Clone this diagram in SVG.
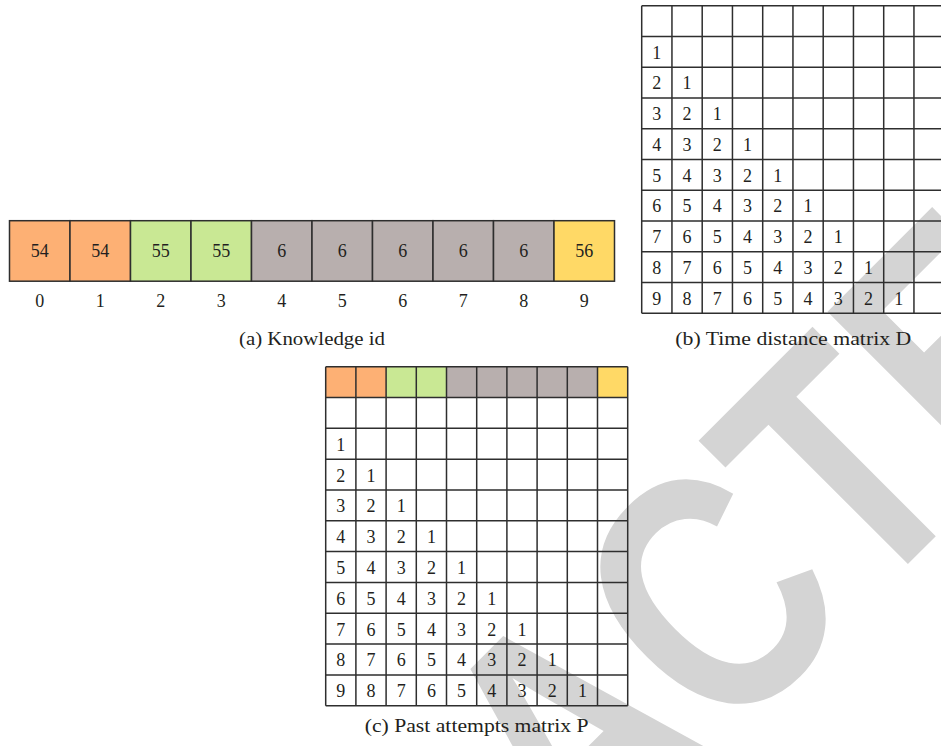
<svg xmlns="http://www.w3.org/2000/svg" width="941" height="746" viewBox="0 0 941 746">
<style>
.num{font-family:"Liberation Serif","Times New Roman",serif;font-size:18px;fill:#231f20;text-anchor:middle}
.cap{font-family:"Liberation Serif","Times New Roman",serif;font-size:19.5px;fill:#231f20;text-anchor:middle}
.cell{stroke:#2e2e2e;stroke-width:1.5}
.grid{fill:none;stroke:#2e2e2e;stroke-width:1.5}
.or{fill:#fdb074}.gr{fill:#c9e894}.gy{fill:#b8afae}.ye{fill:#ffd966}
.wm{font-family:"Liberation Sans",Arial,sans-serif;font-weight:bold;font-size:342px;fill:#d4d4d4}
</style>
<rect width="941" height="746" fill="#ffffff"/>
<g id="watermark">
<text class="wm" transform="translate(56.7,1415.3) rotate(-45) scale(0.8,1)">RETRACTED</text>
</g>

<g id="knowledge-id">
<rect class="cell or" x="9.5" y="220.7" width="60.5" height="60.5"/>
<rect class="cell or" x="70" y="220.7" width="60.5" height="60.5"/>
<rect class="cell gr" x="130.5" y="220.7" width="60.5" height="60.5"/>
<rect class="cell gr" x="191" y="220.7" width="60.5" height="60.5"/>
<rect class="cell gy" x="251.5" y="220.7" width="60.5" height="60.5"/>
<rect class="cell gy" x="312" y="220.7" width="60.5" height="60.5"/>
<rect class="cell gy" x="372.5" y="220.7" width="60.5" height="60.5"/>
<rect class="cell gy" x="433" y="220.7" width="60.5" height="60.5"/>
<rect class="cell gy" x="493.5" y="220.7" width="60.5" height="60.5"/>
<rect class="cell ye" x="554" y="220.7" width="60.5" height="60.5"/>
<g class="num">
<text x="39.75" y="257">54</text><text x="100.25" y="257">54</text><text x="160.75" y="257">55</text><text x="221.25" y="257">55</text><text x="281.75" y="257">6</text><text x="342.25" y="257">6</text><text x="402.75" y="257">6</text><text x="463.25" y="257">6</text><text x="523.75" y="257">6</text><text x="584.25" y="257">56</text>
<text x="39.75" y="307">0</text><text x="100.25" y="307">1</text><text x="160.75" y="307">2</text><text x="221.25" y="307">3</text><text x="281.75" y="307">4</text><text x="342.25" y="307">5</text><text x="402.75" y="307">6</text><text x="463.25" y="307">7</text><text x="523.75" y="307">8</text><text x="584.25" y="307">9</text>
</g>
<text class="cap" x="312" y="345" textLength="146" lengthAdjust="spacingAndGlyphs">(a) Knowledge id</text>
</g>

<g id="matrix-D">
<path class="grid" d="M641.7 5.7V313.3M671.95 5.7V313.3M702.2 5.7V313.3M732.45 5.7V313.3M762.7 5.7V313.3M792.95 5.7V313.3M823.2 5.7V313.3M853.45 5.7V313.3M883.7 5.7V313.3M913.95 5.7V313.3M944.2 5.7V313.3
M641.7 5.7H944.2M641.7 36.46H944.2M641.7 67.22H944.2M641.7 97.98H944.2M641.7 128.74H944.2M641.7 159.5H944.2M641.7 190.26H944.2M641.7 221.02H944.2M641.7 251.78H944.2M641.7 282.54H944.2M641.7 313.3H944.2"/>
<g class="num">
<text x="656.8" y="58.5">1</text>
<text x="656.8" y="89.2">2</text><text x="687.1" y="89.2">1</text>
<text x="656.8" y="120">3</text><text x="687.1" y="120">2</text><text x="717.3" y="120">1</text>
<text x="656.8" y="150.7">4</text><text x="687.1" y="150.7">3</text><text x="717.3" y="150.7">2</text><text x="747.6" y="150.7">1</text>
<text x="656.8" y="181.5">5</text><text x="687.1" y="181.5">4</text><text x="717.3" y="181.5">3</text><text x="747.6" y="181.5">2</text><text x="777.8" y="181.5">1</text>
<text x="656.8" y="212.3">6</text><text x="687.1" y="212.3">5</text><text x="717.3" y="212.3">4</text><text x="747.6" y="212.3">3</text><text x="777.8" y="212.3">2</text><text x="808.1" y="212.3">1</text>
<text x="656.8" y="243">7</text><text x="687.1" y="243">6</text><text x="717.3" y="243">5</text><text x="747.6" y="243">4</text><text x="777.8" y="243">3</text><text x="808.1" y="243">2</text><text x="838.3" y="243">1</text>
<text x="656.8" y="273.8">8</text><text x="687.1" y="273.8">7</text><text x="717.3" y="273.8">6</text><text x="747.6" y="273.8">5</text><text x="777.8" y="273.8">4</text><text x="808.1" y="273.8">3</text><text x="838.3" y="273.8">2</text><text x="868.6" y="273.8">1</text>
<text x="656.8" y="304.5">9</text><text x="687.1" y="304.5">8</text><text x="717.3" y="304.5">7</text><text x="747.6" y="304.5">6</text><text x="777.8" y="304.5">5</text><text x="808.1" y="304.5">4</text><text x="838.3" y="304.5">3</text><text x="868.6" y="304.5">2</text><text x="898.8" y="304.5">1</text>
</g>
<text class="cap" x="793.3" y="345" textLength="236" lengthAdjust="spacingAndGlyphs">(b) Time distance matrix D</text>
</g>

<g id="matrix-P">
<rect class="or" x="325.7" y="366.7" width="30.2" height="30.82"/>
<rect class="or" x="355.9" y="366.7" width="30.2" height="30.82"/>
<rect class="gr" x="386.1" y="366.7" width="30.2" height="30.82"/>
<rect class="gr" x="416.3" y="366.7" width="30.2" height="30.82"/>
<rect class="gy" x="446.5" y="366.7" width="30.2" height="30.82"/>
<rect class="gy" x="476.7" y="366.7" width="30.2" height="30.82"/>
<rect class="gy" x="506.9" y="366.7" width="30.2" height="30.82"/>
<rect class="gy" x="537.1" y="366.7" width="30.2" height="30.82"/>
<rect class="gy" x="567.3" y="366.7" width="30.2" height="30.82"/>
<rect class="ye" x="597.5" y="366.7" width="30.2" height="30.82"/>
<path class="grid" d="M325.7 366.7V705.72M355.9 366.7V705.72M386.1 366.7V705.72M416.3 366.7V705.72M446.5 366.7V705.72M476.7 366.7V705.72M506.9 366.7V705.72M537.1 366.7V705.72M567.3 366.7V705.72M597.5 366.7V705.72M627.7 366.7V705.72
M325.7 366.7H627.7M325.7 397.52H627.7M325.7 428.34H627.7M325.7 459.16H627.7M325.7 489.98H627.7M325.7 520.8H627.7M325.7 551.62H627.7M325.7 582.44H627.7M325.7 613.26H627.7M325.7 644.08H627.7M325.7 674.9H627.7M325.7 705.72H627.7"/>
<g class="num">
<text x="340.8" y="450.6">1</text>
<text x="340.8" y="481.5">2</text><text x="371" y="481.5">1</text>
<text x="340.8" y="512.3">3</text><text x="371" y="512.3">2</text><text x="401.2" y="512.3">1</text>
<text x="340.8" y="543.1">4</text><text x="371" y="543.1">3</text><text x="401.2" y="543.1">2</text><text x="431.4" y="543.1">1</text>
<text x="340.8" y="573.9">5</text><text x="371" y="573.9">4</text><text x="401.2" y="573.9">3</text><text x="431.4" y="573.9">2</text><text x="461.6" y="573.9">1</text>
<text x="340.8" y="604.7">6</text><text x="371" y="604.7">5</text><text x="401.2" y="604.7">4</text><text x="431.4" y="604.7">3</text><text x="461.6" y="604.7">2</text><text x="491.8" y="604.7">1</text>
<text x="340.8" y="635.6">7</text><text x="371" y="635.6">6</text><text x="401.2" y="635.6">5</text><text x="431.4" y="635.6">4</text><text x="461.6" y="635.6">3</text><text x="491.8" y="635.6">2</text><text x="522" y="635.6">1</text>
<text x="340.8" y="666.4">8</text><text x="371" y="666.4">7</text><text x="401.2" y="666.4">6</text><text x="431.4" y="666.4">5</text><text x="461.6" y="666.4">4</text><text x="491.8" y="666.4">3</text><text x="522" y="666.4">2</text><text x="552.2" y="666.4">1</text>
<text x="340.8" y="697.2">9</text><text x="371" y="697.2">8</text><text x="401.2" y="697.2">7</text><text x="431.4" y="697.2">6</text><text x="461.6" y="697.2">5</text><text x="491.8" y="697.2">4</text><text x="522" y="697.2">3</text><text x="552.2" y="697.2">2</text><text x="582.4" y="697.2">1</text>
</g>
<text class="cap" x="476.7" y="731.7" textLength="224" lengthAdjust="spacingAndGlyphs">(c) Past attempts matrix P</text>
</g>
</svg>
